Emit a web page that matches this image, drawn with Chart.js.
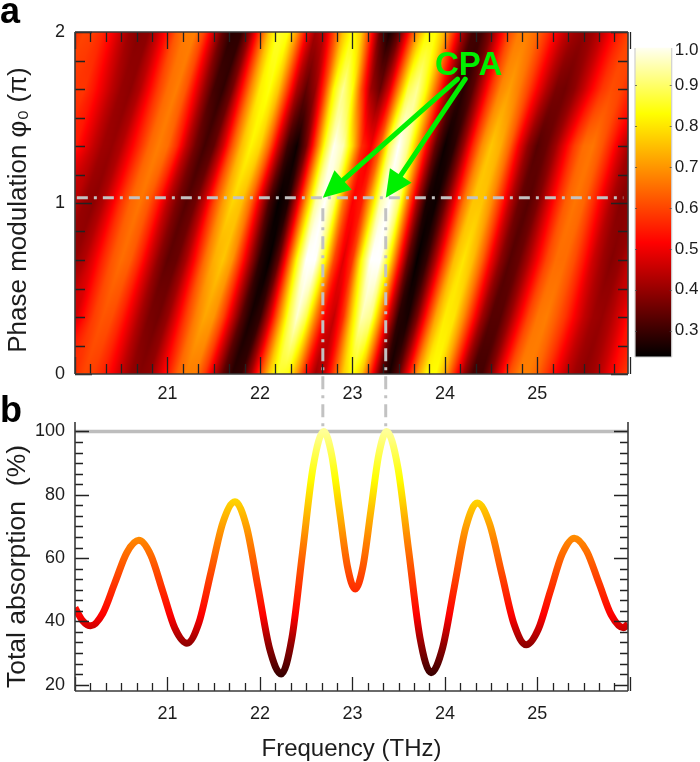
<!DOCTYPE html>
<html>
<head>
<meta charset="utf-8">
<style>
html,body{margin:0;padding:0;background:#fff;width:700px;height:762px;overflow:hidden}
canvas{position:absolute;left:0;top:0}
</style>
<script src="https://cdn.jsdelivr.net/npm/chart.js@4"></script>
</head>
<body>
<canvas id="heat" width="700" height="762"></canvas>
<canvas id="bar" width="700" height="762"></canvas>
<canvas id="curve" width="700" height="762"></canvas>
<script>
/* ---------- data ---------- */
const heatFreq = [20.0,20.1,20.2,20.3,20.4,20.5,20.6,20.7,20.8,20.9,21.0,21.1,21.2,21.3,21.4,21.5,21.6,21.7,21.8,21.9,22.0,22.1,22.2,22.3,22.4,22.5,22.6,22.7,22.8,22.9,23.0,23.1,23.2,23.3,23.4,23.5,23.6,23.7,23.8,23.9,24.0,24.1,24.2,24.3,24.4,24.5,24.6,24.7,24.8,24.9,25.0,25.1,25.2,25.3,25.4,25.5,25.6,25.7,25.8,25.9,26.0];
const heatPhi = [0, 0.3333, 0.6667, 1, 1.3333, 1.6667, 2];
const heatRow0 = [57,60,59,56,51,45,40,38,39,46,54,63,67,67,59,46,34,28,29,41,59,76,86,84,70,52,41,45,60,76,84,76,55,34,26,34,51,70,82,83,73,57,41,31,31,38,50,61,67,67,64,58,51,45,41,39,41,45,51,56,60];
const heatRow1 = [46,53,59,62,61,56,49,42,37,36,40,49,59,67,72,70,60,46,33,26,29,45,66,86,97,88,68,51,45,57,79,95,92,70,45,28,26,37,55,72,81,80,69,55,41,33,33,40,50,60,66,67,63,58,51,45,41,40,43,48,54];
const heatRow2 = [40,43,49,56,62,65,63,56,47,39,34,35,42,53,65,73,76,70,56,41,28,24,34,58,84,100,100,84,60,48,58,84,100,100,82,56,34,24,29,43,60,75,80,75,64,50,39,33,35,42,51,60,65,65,61,54,46,41,38,40,45];
const heatRow3 = [44,40,39,43,50,58,64,66,62,54,44,37,33,36,46,60,71,78,75,64,47,31,24,27,47,72,94,100,90,66,51,55,75,95,100,90,64,41,26,25,35,50,66,76,76,69,57,44,35,33,37,46,55,63,66,64,57,49,42,38,39];
const heatRow4 = [55,50,45,41,40,43,50,57,64,67,65,57,45,36,31,34,46,62,75,82,78,64,45,30,25,36,60,85,99,95,78,57,50,63,89,100,92,73,52,34,25,28,40,56,69,76,73,64,50,39,33,35,41,50,59,65,66,62,55,47,41];
const heatRow5 = [58,58,54,49,44,40,39,43,51,59,65,67,62,51,40,31,29,36,52,68,81,84,76,59,42,34,40,59,83,93,84,60,41,35,47,68,88,93,83,65,47,32,28,33,45,58,68,71,67,60,51,43,37,36,39,45,52,58,61,60,56];
const heatRow6 = [57,60,59,56,51,45,40,38,39,46,54,63,67,67,59,46,34,28,29,41,59,76,86,84,70,52,41,45,60,76,84,76,55,34,26,34,51,70,82,83,73,57,41,31,31,38,50,61,67,67,64,58,51,45,41,39,41,45,51,56,60];
const heatRows = [heatRow0,heatRow1,heatRow2,heatRow3,heatRow4,heatRow5,heatRow6];

const curveFreq = [20.00,20.08,20.17,20.30,20.43,20.56,20.69,20.82,20.95,21.08,21.21,21.34,21.47,21.60,21.73,21.855,21.98,22.105,22.23,22.345,22.46,22.575,22.69,22.775,22.86,22.945,23.03,23.115,23.20,23.285,23.37,23.49,23.61,23.73,23.85,23.975,24.10,24.225,24.35,24.4825,24.615,24.7475,24.88,25.01,25.14,25.27,25.40,25.5325,25.665,25.7975,25.93,25.98];
const curveAbs = [44.3,40.3,38.6,42.5,52.1,61.7,65.6,60.9,49.4,37.8,33.1,39.6,55.5,71.3,77.8,69.9,50.6,31.3,23.4,34.6,61.7,88.8,100,92.7,75.1,57.5,50.2,57.5,75.1,92.7,100,88.9,61.9,34.9,23.8,31.6,50.6,69.6,77.4,70.9,55,39.1,32.6,37.5,49.5,61.4,66.3,62.2,52.2,42.1,38,39.2];

const freqTicks = [21,22,23,24,25];
const phiTicks = [0,1,2];
const absTicks = [20,40,60,80,100];
const barTicks = [0.3,0.4,0.5,0.6,0.7,0.8,0.9];
const barTopTick = 0.985;
const barLabels = {0.3:'0.3',0.4:'0.4',0.5:'0.5',0.6:'0.6',0.7:'0.7',0.8:'0.8',0.9:'0.9',0.985:'1.0'};
const cpaFreq = [22.68,23.36];
const guidePhi = 1.03;
const arrowTail = [[24.137,1.725],[24.22,1.725]];
const cmapVal = [0.236,0.515,0.83,1.0];
const cmapRGB = [[0,0,0],[255,0,0],[255,255,0],[255,255,255]];
const slopeFreq = [21.5,22.2,23.7,24.2];
const slopeVal = [0.65,0.42,0.42,0.52];
const curveColorAbs = [20,23,33,42,66,85,100];
const curveColorLevel = [0.28,0.30,0.40,0.515,0.68,0.83,0.93];

/* ---------- helpers ---------- */
const FONT = '"Liberation Sans", Arial, sans-serif';
Chart.defaults.font.family = FONT;
Chart.defaults.color = '#1c1c1c';
Chart.defaults.animation = false;
const AXIS = '#3a3a3a', GRAY = '#c2c2c2', GREEN = '#00f000';

function cmap(v){
  if(v<=cmapVal[0]) return cmapRGB[0];
  for(let i=1;i<cmapVal.length;i++){
    if(v<=cmapVal[i]){
      const t=(v-cmapVal[i-1])/(cmapVal[i]-cmapVal[i-1]);
      const a=cmapRGB[i-1],b=cmapRGB[i];
      return [a[0]+(b[0]-a[0])*t,a[1]+(b[1]-a[1])*t,a[2]+(b[2]-a[2])*t];
    }
  }
  return cmapRGB[cmapRGB.length-1];
}
const css = c => `rgb(${Math.round(c[0])},${Math.round(c[1])},${Math.round(c[2])})`;

function fixedSize(dim,val){ return s => { s[dim]=val; }; }
function shiftTitle(s,dy){
  if(s._patched) return; s._patched=true;
  const orig=s.drawTitle;
  s.drawTitle=function(){ const c=this.ctx; c.save(); c.translate(0,dy); orig.call(this); c.restore(); };
}
function axisTicks(ctx,scale,side,from,to,step,sub,majorLen,minorLen){
  const a=scale.chart.chartArea, vertical=side==='left'||side==='right';
  ctx.beginPath();
  const n=Math.round((to-from)/step*sub);
  for(let k=0;k<=n;k++){
    const v=from+k*step/sub;
    const p=Math.round(scale.getPixelForValue(v))+0.5;
    const len=(k%sub===0)?majorLen:minorLen;
    if(vertical){
      const x0=side==='left'?a.left:a.right, d=side==='left'?1:-1;
      ctx.moveTo(x0,p); ctx.lineTo(x0+d*len,p);
    }else{
      const y0=side==='bottom'?a.bottom:a.top, d=side==='bottom'?-1:1;
      ctx.moveTo(p,y0); ctx.lineTo(p,y0+d*len);
    }
  }
  ctx.strokeStyle='#222'; ctx.lineWidth=1.3; ctx.stroke();
}
function frame(ctx,a,sides){
  ctx.beginPath();
  if(sides.includes('t')){ctx.moveTo(a.left,a.top);ctx.lineTo(a.right,a.top);}
  if(sides.includes('b')){ctx.moveTo(a.left,a.bottom);ctx.lineTo(a.right,a.bottom);}
  if(sides.includes('l')){ctx.moveTo(a.left,a.top);ctx.lineTo(a.left,a.bottom);}
  if(sides.includes('r')){ctx.moveTo(a.right,a.top);ctx.lineTo(a.right,a.bottom);}
  ctx.strokeStyle=AXIS; ctx.lineWidth=1.6; ctx.stroke();
}
function rowAt(r,f){
  const p=(f-heatFreq[0])/(heatFreq[1]-heatFreq[0]);
  const i=Math.max(0,Math.min(r.length-2,Math.floor(p)));
  const t=Math.max(0,Math.min(1,p-i));
  return r[i]*(1-t)+r[i+1]*t;
}
function slopeAt(f){
  if(f<=slopeFreq[0]) return slopeVal[0];
  for(let i=1;i<slopeFreq.length;i++){
    if(f<=slopeFreq[i]) return slopeVal[i-1]+(slopeVal[i]-slopeVal[i-1])*(f-slopeFreq[i-1])/(slopeFreq[i]-slopeFreq[i-1]);
  }
  return slopeVal[slopeVal.length-1];
}

/* smooth raster of the cell table, placed through the chart's own scales */
const heatSmooth = {
  id:'heatSmooth',
  afterDatasetDraw(chart,args){
    if(args.index!==heatIndex) return;
    const a=chart.chartArea, X=chart.scales.x, Y=chart.scales.y;
    const w=Math.ceil(a.right-a.left), h=Math.ceil(a.bottom-a.top);
    const off=document.createElement('canvas'); off.width=w; off.height=h;
    const oc=off.getContext('2d'), img=oc.createImageData(w,h);
    for(let py=0;py<h;py++){
      const phi=Y.getValueForPixel(a.top+py+0.5);
      let i=0; while(i<heatPhi.length-2 && phi>heatPhi[i+1]) i++;
      const p0=heatPhi[i],p1=heatPhi[i+1],t=Math.max(0,Math.min(1,(phi-p0)/(p1-p0)));
      for(let px=0;px<w;px++){
        const f=X.getValueForPixel(a.left+px+0.5);
        const s=slopeAt(f);
        const v0=rowAt(heatRows[i],f-s*(phi-p0));
        const v1=rowAt(heatRows[i+1],f+s*(p1-phi));
        const c=cmap((v0*(1-t)+v1*t)/100);
        const o=(py*w+px)*4;
        img.data[o]=c[0];img.data[o+1]=c[1];img.data[o+2]=c[2];img.data[o+3]=255;
      }
    }
    oc.putImageData(img,0,0);
    chart.ctx.drawImage(off,a.left,a.top);
  }
};
const heatDecor = {
  id:'heatDecor',
  afterDatasetsDraw(chart){
    const c=chart.ctx,a=chart.chartArea,X=chart.scales.x,Y=chart.scales.y;
    axisTicks(c,X,'bottom',20,25.98,1,6,17,10);
    axisTicks(c,X,'top',20,25.98,1,6,17,10);
    axisTicks(c,Y,'left',0,2,1,6,17,10);
    axisTicks(c,Y,'right',0,2,1,6,17,10);
    frame(c,a,'tblr');
    cpaFreq.forEach((f,i)=>{
      const x1=X.getPixelForValue(f),y1=Y.getPixelForValue(guidePhi);
      const x0=X.getPixelForValue(arrowTail[i][0]),y0=Y.getPixelForValue(arrowTail[i][1]);
      const ang=Math.atan2(y1-y0,x1-x0),L=27,W=13;
      const bx=x1-L*Math.cos(ang),by=y1-L*Math.sin(ang);
      c.strokeStyle=GREEN;c.lineWidth=5;c.lineCap='round';
      c.beginPath();c.moveTo(x0,y0);c.lineTo(bx,by);c.stroke();
      c.fillStyle=GREEN;c.beginPath();c.moveTo(x1,y1);
      c.lineTo(bx-W*Math.sin(ang),by+W*Math.cos(ang));
      c.lineTo(bx+W*Math.sin(ang),by-W*Math.cos(ang));
      c.closePath();c.fill();
    });
    c.fillStyle=GREEN;c.font='bold 33px '+FONT;c.textAlign='left';c.textBaseline='alphabetic';
    c.fillText('CPA',435,75);
    c.fillStyle='#000';c.font='bold 36px '+FONT;
    c.fillText('a',0,23);
    c.fillText('b',0,422);
  }
};
const curveDecor = {
  id:'curveDecor',
  afterDatasetsDraw(chart){
    const c=chart.ctx,a=chart.chartArea,X=chart.scales.x,Y=chart.scales.y;
    axisTicks(c,X,'bottom',20,25.98,1,6,14,8);
    axisTicks(c,Y,'left',20,100,20,6,14,8);
    axisTicks(c,Y,'right',20,100,20,6,14,8);
    frame(c,a,'blr');
  }
};
const barDecor = {
  id:'barDecor',
  afterDatasetsDraw(chart){
    const c=chart.ctx,a=chart.chartArea,Y=chart.scales.y;
    const t=Y.getPixelForValue(0.99),b=Y.getPixelForValue(0.236);
    c.strokeStyle='#d0d0d0';c.lineWidth=1.2;
    c.beginPath();c.moveTo(a.left,t);c.lineTo(a.left,b);c.moveTo(a.left,b);c.lineTo(a.right,b);c.moveTo(a.right,t);c.lineTo(a.right,b);c.stroke();
    c.strokeStyle='rgba(70,70,70,.7)';c.lineWidth=1;c.beginPath();
    barTicks.forEach(v=>{const p=Math.round(Y.getPixelForValue(v))+0.5;
      c.moveTo(a.left,p);c.lineTo(a.left+2,p);c.moveTo(a.right-2,p);c.lineTo(a.right,p);});
    c.stroke();
  }
};

/* ---------- panel a ---------- */
const heatCells = [];
heatRows.forEach((r,j)=>r.forEach((v,i)=>heatCells.push({x:heatFreq[i],y:heatPhi[j],v})));
const guide = {showLine:true,pointRadius:0,borderColor:GRAY,borderWidth:3,clip:false,order:1};
const heatIndex = 3;
const noGrid = {display:false,drawTicks:false};
new Chart(document.getElementById('heat'),{
  type:'scatter',
  data:{datasets:[
    {...guide,data:[{x:20.02,y:guidePhi},{x:25.93,y:guidePhi}],borderDash:[11,6,3,6]},
    {...guide,data:[{x:cpaFreq[0],y:0.97},{x:cpaFreq[0],y:-0.339}],borderDash:[13,6,3,6]},
    {...guide,data:[{x:cpaFreq[1],y:0.97},{x:cpaFreq[1],y:-0.339}],borderDash:[13,6,3,6]},
    {data:heatCells,order:5,pointStyle:'rect',pointRadius:8,pointBorderWidth:0,
     backgroundColor:c=>css(cmap((c.raw?c.raw.v:50)/100))}
  ]},
  options:{
    responsive:false,events:[],
    layout:{padding:{top:32,right:72,bottom:358,left:0}},
    plugins:{legend:{display:false},tooltip:{enabled:false}},
    scales:{
      x:{type:'linear',min:20,max:25.98,
        afterFit:fixedSize('height',30),
        afterBuildTicks:s=>{s.ticks=freqTicks.map(value=>({value}));},
        grid:noGrid,border:{display:false},
        ticks:{padding:9,maxRotation:0,font:{size:18},callback:v=>String(v)}},
      y:{type:'linear',min:0,max:2,
        afterFit:s=>{s.width=75;shiftTitle(s,7);},
        afterBuildTicks:s=>{s.ticks=phiTicks.map(value=>({value}));},
        grid:noGrid,border:{display:false},
        title:{display:true,text:'Phase modulation φ₀ (π)',font:{size:26},padding:{top:3,bottom:0},color:'#1c1c1c'},
        ticks:{padding:10,font:{size:18},callback:v=>String(v)}}
    }
  },
  plugins:[heatSmooth,heatDecor]
});

/* ---------- colour bar ---------- */
new Chart(document.getElementById('bar'),{
  type:'bar',
  data:{labels:[''],datasets:[{data:[[0.236,0.99]],barPercentage:1,categoryPercentage:1,
    backgroundColor:c=>{
      const y=c.chart.scales.y; if(!y||!c.chart.chartArea) return '#000';
      const p0=y.getPixelForValue(0.236),p1=y.getPixelForValue(0.99);
      if(!isFinite(p0)||!isFinite(p1)) return '#000';
      const g=c.chart.ctx.createLinearGradient(0,p0,0,p1);
      [0.236,0.3,0.4,0.515,0.6,0.7,0.83,0.9,0.99].forEach(v=>g.addColorStop((v-0.236)/(0.99-0.236),css(cmap(v))));
      return g;
    }}]},
  options:{
    responsive:false,events:[],
    layout:{padding:{top:44,right:0,bottom:405,left:635}},
    plugins:{legend:{display:false},tooltip:{enabled:false}},
    scales:{
      x:{display:false},
      y:{position:'right',min:0.236,max:1,
        afterFit:fixedSize('width',28.3),
        afterBuildTicks:s=>{s.ticks=[...barTicks,barTopTick].map(value=>({value}));},
        grid:noGrid,border:{display:false},
        ticks:{padding:3,font:{size:17},callback:v=>barLabels[v]}}
    }
  },
  plugins:[barDecor]
});

/* ---------- panel b ---------- */
new Chart(document.getElementById('curve'),{
  type:'line',
  data:{datasets:[
    {data:curveFreq.map((x,i)=>({x,y:curveAbs[i]})),order:1,pointRadius:0,borderWidth:7,clip:0,
     cubicInterpolationMode:'monotone',borderCapStyle:'butt',
     borderColor:c=>{
       const y=c.chart.scales.y; if(!y||!c.chart.chartArea) return '#f00';
       const p0=y.getPixelForValue(20),p1=y.getPixelForValue(100);
       if(!isFinite(p0)||!isFinite(p1)) return '#f00';
       const g=c.chart.ctx.createLinearGradient(0,p0,0,p1);
       curveColorAbs.forEach((v,i)=>g.addColorStop((v-20)/80,css(cmap(curveColorLevel[i]))));
       return g;
     }},
    {data:[{x:20,y:100},{x:25.98,y:100}],order:2,pointRadius:0,borderWidth:3.5,borderColor:'#bdbdbd'}
  ]},
  options:{
    responsive:false,events:[],
    layout:{padding:{top:422,right:72,bottom:0,left:0}},
    plugins:{legend:{display:false},tooltip:{enabled:false}},
    scales:{
      x:{type:'linear',min:20,max:25.98,
        afterFit:s=>{s.height=71;shiftTitle(s,2);},
        afterBuildTicks:s=>{s.ticks=freqTicks.map(value=>({value}));},
        grid:noGrid,border:{display:false},
        title:{display:true,text:'Frequency (THz)',font:{size:24},padding:{top:0,bottom:0},color:'#1c1c1c'},
        ticks:{padding:12,maxRotation:0,font:{size:18},callback:v=>String(v)}},
      y:{type:'linear',min:18,max:103,
        afterFit:s=>{s.width=75;shiftTitle(s,10);},
        afterBuildTicks:s=>{s.ticks=absTicks.map(value=>({value}));},
        grid:noGrid,border:{display:false},
        title:{display:true,text:'Total absorption  (%)',font:{size:26.5},padding:{top:2,bottom:0},color:'#1c1c1c'},
        ticks:{padding:10,font:{size:18},callback:v=>String(v)}}
    }
  },
  plugins:[curveDecor]
});
</script>
</body>
</html>
